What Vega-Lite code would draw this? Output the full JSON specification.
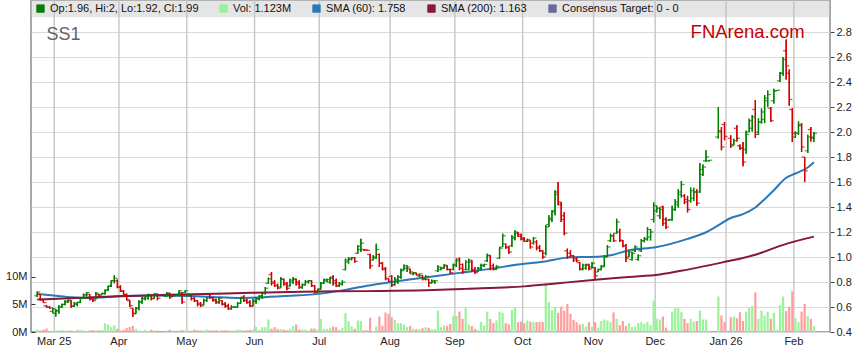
{
  "$schema": "https://vega.github.io/schema/vega-lite/v6.json",
  "width": 799,
  "height": 332,
  "autosize": {"type": "none"},
  "padding": {"left": 31, "top": 0, "right": 29, "bottom": 31},
  "background": "white",
  "config": {
    "view": {"stroke": "#8c8c8c", "strokeWidth": 1.5},
    "font": "Liberation Sans",
    "axis": {"labelFont": "Liberation Sans", "labelFontSize": 11, "labelColor": "#222", "gridColor": "#d9d9d9", "gridWidth": 1, "domain": false, "tickColor": "#444"}
  },
  "datasets": {
    "ohlc": [
      {"i":-6,"o":0.69,"h":0.725,"l":0.68,"c":0.72,"v":0.4},
      {"i":-5,"o":0.70,"h":0.70,"l":0.655,"c":0.66,"v":0.27},
      {"i":-4,"o":0.655,"h":0.66,"l":0.632,"c":0.635,"v":0.45},
      {"i":-3,"o":0.61,"h":0.615,"l":0.595,"c":0.60,"v":0.64},
      {"i":-2,"o":0.60,"h":0.605,"l":0.587,"c":0.592,"v":0.2},
      {"i":-1,"o":0.565,"h":0.595,"l":0.55,"c":0.585,"v":0.12},
      {"i":0,"o":0.55,"h":0.585,"l":0.525,"c":0.57,"v":0.27},
      {"i":1,"o":0.57,"h":0.614,"l":0.547,"c":0.60,"v":0.3},
      {"i":2,"o":0.60,"h":0.627,"l":0.595,"c":0.62,"v":0.4},
      {"i":3,"o":0.62,"h":0.654,"l":0.614,"c":0.645,"v":0.27},
      {"i":4,"o":0.64,"h":0.66,"l":0.632,"c":0.655,"v":0.3},
      {"i":5,"o":0.65,"h":0.654,"l":0.595,"c":0.605,"v":0.27},
      {"i":6,"o":0.61,"h":0.64,"l":0.60,"c":0.63,"v":0.15},
      {"i":7,"o":0.62,"h":0.64,"l":0.606,"c":0.635,"v":0.45},
      {"i":8,"o":0.64,"h":0.68,"l":0.632,"c":0.67,"v":0.4},
      {"i":9,"o":0.67,"h":0.707,"l":0.667,"c":0.70,"v":0.27},
      {"i":10,"o":0.69,"h":0.72,"l":0.686,"c":0.715,"v":0.2},
      {"i":11,"o":0.70,"h":0.705,"l":0.654,"c":0.66,"v":0.27},
      {"i":12,"o":0.67,"h":0.68,"l":0.64,"c":0.65,"v":0.35},
      {"i":13,"o":0.66,"h":0.72,"l":0.66,"c":0.71,"v":0.3},
      {"i":14,"o":0.70,"h":0.705,"l":0.68,"c":0.69,"v":0.3},
      {"i":15,"o":0.70,"h":0.715,"l":0.70,"c":0.71,"v":0.35},
      {"i":16,"o":0.705,"h":0.74,"l":0.70,"c":0.735,"v":1.6},
      {"i":17,"o":0.735,"h":0.77,"l":0.73,"c":0.765,"v":1.36},
      {"i":18,"o":0.77,"h":0.815,"l":0.76,"c":0.81,"v":0.88},
      {"i":19,"o":0.81,"h":0.855,"l":0.79,"c":0.83,"v":1.24},
      {"i":20,"o":0.81,"h":0.82,"l":0.75,"c":0.76,"v":0.58},
      {"i":21,"o":0.76,"h":0.773,"l":0.72,"c":0.73,"v":0.27},
      {"i":22,"o":0.725,"h":0.734,"l":0.694,"c":0.70,"v":0.4},
      {"i":23,"o":0.70,"h":0.707,"l":0.654,"c":0.66,"v":0.76},
      {"i":24,"o":0.65,"h":0.654,"l":0.60,"c":0.61,"v":0.9},
      {"i":25,"o":0.59,"h":0.59,"l":0.52,"c":0.545,"v":1.12},
      {"i":26,"o":0.55,"h":0.60,"l":0.547,"c":0.59,"v":0.58},
      {"i":27,"o":0.59,"h":0.654,"l":0.574,"c":0.64,"v":0.27},
      {"i":28,"o":0.64,"h":0.68,"l":0.627,"c":0.67,"v":0.2},
      {"i":29,"o":0.665,"h":0.694,"l":0.654,"c":0.685,"v":0.4},
      {"i":30,"o":0.67,"h":0.707,"l":0.66,"c":0.70,"v":0.2},
      {"i":31,"o":0.695,"h":0.70,"l":0.654,"c":0.665,"v":0.4},
      {"i":32,"o":0.67,"h":0.712,"l":0.667,"c":0.705,"v":0.3},
      {"i":33,"o":0.70,"h":0.707,"l":0.654,"c":0.67,"v":0.25},
      {"i":36,"o":0.685,"h":0.72,"l":0.68,"c":0.71,"v":0.27},
      {"i":37,"o":0.71,"h":0.715,"l":0.667,"c":0.68,"v":0.4},
      {"i":38,"o":0.685,"h":0.694,"l":0.68,"c":0.69,"v":0.3},
      {"i":40,"o":0.70,"h":0.734,"l":0.694,"c":0.73,"v":0.3},
      {"i":41,"o":0.715,"h":0.72,"l":0.627,"c":0.64,"v":0.35},
      {"i":42,"o":0.715,"h":0.735,"l":0.715,"c":0.73,"v":0.27},
      {"i":43,"o":0.69,"h":0.707,"l":0.686,"c":0.70,"v":0.3},
      {"i":44,"o":0.69,"h":0.694,"l":0.654,"c":0.665,"v":0.2},
      {"i":45,"o":0.67,"h":0.68,"l":0.64,"c":0.65,"v":0.45},
      {"i":46,"o":0.65,"h":0.654,"l":0.606,"c":0.62,"v":0.3},
      {"i":47,"o":0.63,"h":0.64,"l":0.60,"c":0.61,"v":0.27},
      {"i":48,"o":0.62,"h":0.667,"l":0.615,"c":0.655,"v":0.3},
      {"i":49,"o":0.65,"h":0.68,"l":0.64,"c":0.675,"v":0.45},
      {"i":50,"o":0.70,"h":0.707,"l":0.667,"c":0.675,"v":0.27},
      {"i":51,"o":0.675,"h":0.68,"l":0.645,"c":0.65,"v":0.3},
      {"i":52,"o":0.66,"h":0.667,"l":0.627,"c":0.64,"v":0.3},
      {"i":53,"o":0.635,"h":0.68,"l":0.627,"c":0.67,"v":0.27},
      {"i":54,"o":0.65,"h":0.654,"l":0.614,"c":0.62,"v":0.3},
      {"i":55,"o":0.625,"h":0.64,"l":0.595,"c":0.605,"v":0.3},
      {"i":56,"o":0.61,"h":0.627,"l":0.579,"c":0.59,"v":0.25},
      {"i":57,"o":0.585,"h":0.614,"l":0.579,"c":0.60,"v":0.27},
      {"i":58,"o":0.597,"h":0.605,"l":0.595,"c":0.60,"v":0.3},
      {"i":59,"o":0.60,"h":0.64,"l":0.595,"c":0.63,"v":0.45},
      {"i":60,"o":0.63,"h":0.68,"l":0.627,"c":0.67,"v":0.4},
      {"i":61,"o":0.68,"h":0.694,"l":0.64,"c":0.65,"v":0.27},
      {"i":62,"o":0.655,"h":0.667,"l":0.627,"c":0.635,"v":0.3},
      {"i":63,"o":0.64,"h":0.654,"l":0.60,"c":0.605,"v":0.4},
      {"i":64,"o":0.61,"h":0.667,"l":0.606,"c":0.65,"v":0.45},
      {"i":65,"o":0.645,"h":0.68,"l":0.627,"c":0.665,"v":0.94},
      {"i":66,"o":0.665,"h":0.694,"l":0.654,"c":0.69,"v":0.4},
      {"i":67,"o":0.685,"h":0.712,"l":0.667,"c":0.71,"v":0.88},
      {"i":68,"o":0.71,"h":0.76,"l":0.70,"c":0.75,"v":0.88},
      {"i":69,"o":0.79,"h":0.835,"l":0.785,"c":0.825,"v":2.27},
      {"i":70,"o":0.86,"h":0.88,"l":0.773,"c":0.79,"v":0.6},
      {"i":71,"o":0.80,"h":0.814,"l":0.76,"c":0.77,"v":0.88},
      {"i":72,"o":0.775,"h":0.787,"l":0.742,"c":0.75,"v":0.58},
      {"i":73,"o":0.76,"h":0.84,"l":0.755,"c":0.825,"v":0.5},
      {"i":74,"o":0.82,"h":0.827,"l":0.773,"c":0.78,"v":0.45},
      {"i":75,"o":0.79,"h":0.80,"l":0.734,"c":0.75,"v":0.3},
      {"i":76,"o":0.77,"h":0.827,"l":0.765,"c":0.815,"v":0.58},
      {"i":77,"o":0.80,"h":0.84,"l":0.787,"c":0.825,"v":1.12},
      {"i":78,"o":0.82,"h":0.827,"l":0.773,"c":0.785,"v":1.36},
      {"i":79,"o":0.80,"h":0.814,"l":0.747,"c":0.76,"v":0.45},
      {"i":80,"o":0.755,"h":0.787,"l":0.747,"c":0.78,"v":0.45},
      {"i":81,"o":0.775,"h":0.814,"l":0.773,"c":0.805,"v":0.45},
      {"i":82,"o":0.80,"h":0.814,"l":0.787,"c":0.81,"v":0.27},
      {"i":83,"o":0.81,"h":0.814,"l":0.76,"c":0.77,"v":0.64},
      {"i":84,"o":0.77,"h":0.773,"l":0.707,"c":0.72,"v":0.64},
      {"i":85,"o":0.72,"h":0.747,"l":0.715,"c":0.74,"v":0.45},
      {"i":86,"o":0.745,"h":0.80,"l":0.74,"c":0.79,"v":2.4},
      {"i":87,"o":0.79,"h":0.827,"l":0.787,"c":0.82,"v":0.58},
      {"i":88,"o":0.81,"h":0.827,"l":0.80,"c":0.82,"v":0.58},
      {"i":89,"o":0.80,"h":0.84,"l":0.787,"c":0.83,"v":0.76},
      {"i":90,"o":0.84,"h":0.854,"l":0.773,"c":0.79,"v":1.0},
      {"i":91,"o":0.81,"h":0.827,"l":0.76,"c":0.77,"v":0.88},
      {"i":92,"o":0.77,"h":0.80,"l":0.76,"c":0.79,"v":0.45},
      {"i":93,"o":0.78,"h":0.814,"l":0.773,"c":0.80,"v":0.76},
      {"i":94,"o":0.90,"h":0.987,"l":0.894,"c":0.975,"v":3.42},
      {"i":95,"o":0.96,"h":1.0,"l":0.947,"c":0.99,"v":1.97},
      {"i":96,"o":0.98,"h":1.0,"l":0.974,"c":0.995,"v":1.0},
      {"i":97,"o":0.995,"h":1.0,"l":0.955,"c":0.965,"v":0.6},
      {"i":98,"o":1.03,"h":1.094,"l":1.027,"c":1.085,"v":2.1},
      {"i":99,"o":1.06,"h":1.147,"l":1.04,"c":1.11,"v":2.0},
      {"i":100,"o":1.06,"h":1.062,"l":1.05,"c":1.055,"v":0.3},
      {"i":101,"o":1.056,"h":1.058,"l":1.05,"c":1.054,"v":0.3},
      {"i":102,"o":1.02,"h":1.027,"l":0.907,"c":0.93,"v":2.6},
      {"i":103,"o":0.975,"h":1.014,"l":0.974,"c":1.0,"v":0.2},
      {"i":104,"o":0.99,"h":1.107,"l":0.987,"c":1.06,"v":1.0},
      {"i":105,"o":1.02,"h":1.027,"l":0.92,"c":0.95,"v":2.82},
      {"i":106,"o":0.95,"h":0.96,"l":0.894,"c":0.90,"v":1.12},
      {"i":107,"o":0.91,"h":0.92,"l":0.814,"c":0.83,"v":3.55},
      {"i":108,"o":0.825,"h":0.827,"l":0.80,"c":0.805,"v":3.3},
      {"i":109,"o":0.845,"h":0.854,"l":0.76,"c":0.775,"v":2.7},
      {"i":110,"o":0.78,"h":0.84,"l":0.773,"c":0.82,"v":2.2},
      {"i":111,"o":0.80,"h":0.854,"l":0.787,"c":0.84,"v":1.6},
      {"i":112,"o":0.84,"h":0.907,"l":0.827,"c":0.89,"v":1.6},
      {"i":113,"o":0.90,"h":0.94,"l":0.894,"c":0.93,"v":1.36},
      {"i":114,"o":0.91,"h":0.934,"l":0.88,"c":0.92,"v":0.88},
      {"i":115,"o":0.905,"h":0.907,"l":0.867,"c":0.88,"v":1.1},
      {"i":116,"o":0.865,"h":0.88,"l":0.854,"c":0.875,"v":0.6},
      {"i":117,"o":0.87,"h":0.875,"l":0.854,"c":0.86,"v":0.5},
      {"i":118,"o":0.85,"h":0.867,"l":0.84,"c":0.865,"v":0.5},
      {"i":119,"o":0.85,"h":0.854,"l":0.814,"c":0.82,"v":0.7},
      {"i":120,"o":0.83,"h":0.854,"l":0.814,"c":0.845,"v":0.88},
      {"i":121,"o":0.82,"h":0.827,"l":0.76,"c":0.79,"v":0.76},
      {"i":122,"o":0.795,"h":0.82,"l":0.79,"c":0.81,"v":0.5},
      {"i":123,"o":0.80,"h":0.814,"l":0.787,"c":0.81,"v":0.5},
      {"i":124,"o":0.89,"h":0.934,"l":0.88,"c":0.92,"v":3.9},
      {"i":125,"o":0.90,"h":0.92,"l":0.894,"c":0.91,"v":0.88},
      {"i":126,"o":0.915,"h":0.942,"l":0.907,"c":0.935,"v":1.18},
      {"i":127,"o":0.93,"h":0.934,"l":0.894,"c":0.90,"v":1.1},
      {"i":128,"o":0.90,"h":0.907,"l":0.867,"c":0.875,"v":1.48},
      {"i":129,"o":0.90,"h":0.947,"l":0.894,"c":0.94,"v":2.94},
      {"i":130,"o":0.93,"h":0.987,"l":0.92,"c":0.97,"v":2.94},
      {"i":131,"o":0.985,"h":0.995,"l":0.894,"c":0.91,"v":3.73},
      {"i":132,"o":0.94,"h":0.947,"l":0.867,"c":0.88,"v":2.4},
      {"i":133,"o":0.90,"h":0.974,"l":0.894,"c":0.96,"v":4.36},
      {"i":134,"o":0.90,"h":0.987,"l":0.894,"c":0.975,"v":1.36},
      {"i":135,"o":0.96,"h":0.974,"l":0.88,"c":0.89,"v":1.1},
      {"i":136,"o":0.90,"h":0.92,"l":0.867,"c":0.875,"v":0.58},
      {"i":137,"o":0.885,"h":0.92,"l":0.88,"c":0.91,"v":0.4},
      {"i":138,"o":0.905,"h":0.947,"l":0.894,"c":0.935,"v":1.85},
      {"i":139,"o":0.93,"h":0.947,"l":0.92,"c":0.94,"v":1.2},
      {"i":140,"o":0.97,"h":1.027,"l":0.96,"c":1.015,"v":3.7},
      {"i":141,"o":1.01,"h":1.014,"l":0.894,"c":0.91,"v":2.33},
      {"i":142,"o":0.93,"h":0.947,"l":0.894,"c":0.90,"v":1.6},
      {"i":143,"o":0.905,"h":0.934,"l":0.90,"c":0.925,"v":2.1},
      {"i":144,"o":0.99,"h":1.08,"l":0.987,"c":1.07,"v":3.7},
      {"i":145,"o":1.08,"h":1.187,"l":1.08,"c":1.17,"v":3.5},
      {"i":146,"o":1.105,"h":1.107,"l":1.067,"c":1.075,"v":1.6},
      {"i":147,"o":1.08,"h":1.086,"l":1.027,"c":1.04,"v":1.4},
      {"i":148,"o":1.09,"h":1.174,"l":1.08,"c":1.16,"v":4.03},
      {"i":149,"o":1.15,"h":1.214,"l":1.134,"c":1.20,"v":4.4},
      {"i":150,"o":1.19,"h":1.20,"l":1.16,"c":1.165,"v":1.79},
      {"i":151,"o":1.18,"h":1.187,"l":1.134,"c":1.14,"v":1.9},
      {"i":152,"o":1.15,"h":1.16,"l":1.12,"c":1.125,"v":1.6},
      {"i":153,"o":1.125,"h":1.147,"l":1.12,"c":1.14,"v":2.1},
      {"i":154,"o":1.13,"h":1.134,"l":1.067,"c":1.08,"v":1.9},
      {"i":155,"o":1.11,"h":1.16,"l":1.10,"c":1.15,"v":1.8},
      {"i":156,"o":1.12,"h":1.134,"l":1.054,"c":1.07,"v":1.8},
      {"i":157,"o":1.08,"h":1.094,"l":1.04,"c":1.05,"v":1.8},
      {"i":158,"o":1.05,"h":1.054,"l":0.987,"c":1.0,"v":1.8},
      {"i":159,"o":1.03,"h":1.254,"l":1.014,"c":1.24,"v":8.9},
      {"i":160,"o":1.26,"h":1.334,"l":1.24,"c":1.31,"v":5.42},
      {"i":161,"o":1.30,"h":1.374,"l":1.28,"c":1.36,"v":4.0},
      {"i":162,"o":1.37,"h":1.534,"l":1.334,"c":1.50,"v":4.5},
      {"i":163,"o":1.52,"h":1.60,"l":1.414,"c":1.44,"v":3.5},
      {"i":164,"o":1.42,"h":1.44,"l":1.28,"c":1.30,"v":4.6},
      {"i":165,"o":1.33,"h":1.36,"l":1.174,"c":1.19,"v":3.9},
      {"i":166,"o":1.05,"h":1.067,"l":0.987,"c":1.0,"v":5.12},
      {"i":167,"o":1.03,"h":1.054,"l":1.0,"c":1.01,"v":3.3},
      {"i":168,"o":1.01,"h":1.014,"l":0.96,"c":0.975,"v":2.2},
      {"i":169,"o":0.99,"h":1.0,"l":0.96,"c":0.97,"v":1.8},
      {"i":170,"o":0.955,"h":0.96,"l":0.894,"c":0.905,"v":1.36},
      {"i":171,"o":0.90,"h":0.947,"l":0.894,"c":0.935,"v":1.5},
      {"i":172,"o":0.91,"h":0.947,"l":0.90,"c":0.935,"v":1.0},
      {"i":173,"o":0.94,"h":0.947,"l":0.894,"c":0.905,"v":1.8},
      {"i":174,"o":0.92,"h":0.96,"l":0.91,"c":0.95,"v":0.9},
      {"i":175,"o":0.915,"h":0.92,"l":0.827,"c":0.85,"v":1.79},
      {"i":176,"o":0.88,"h":0.907,"l":0.88,"c":0.90,"v":0.76},
      {"i":177,"o":0.90,"h":0.934,"l":0.894,"c":0.92,"v":2.0},
      {"i":178,"o":0.93,"h":1.014,"l":0.92,"c":1.0,"v":2.27},
      {"i":179,"o":1.0,"h":1.094,"l":1.0,"c":1.08,"v":2.1},
      {"i":180,"o":1.13,"h":1.187,"l":1.12,"c":1.17,"v":1.79},
      {"i":181,"o":1.17,"h":1.187,"l":1.12,"c":1.13,"v":3.55},
      {"i":182,"o":1.19,"h":1.307,"l":1.187,"c":1.28,"v":2.4},
      {"i":183,"o":1.20,"h":1.227,"l":1.12,"c":1.135,"v":1.24},
      {"i":184,"o":1.13,"h":1.137,"l":1.079,"c":1.09,"v":2.0},
      {"i":185,"o":1.09,"h":1.105,"l":0.96,"c":0.99,"v":1.1},
      {"i":186,"o":1.0,"h":1.052,"l":1.0,"c":1.04,"v":1.6},
      {"i":187,"o":0.98,"h":1.04,"l":0.973,"c":1.03,"v":0.9},
      {"i":188,"o":1.05,"h":1.092,"l":1.04,"c":1.08,"v":1.0},
      {"i":189,"o":0.98,"h":1.02,"l":0.973,"c":1.01,"v":1.6},
      {"i":190,"o":1.05,"h":1.145,"l":1.04,"c":1.13,"v":1.8},
      {"i":191,"o":1.13,"h":1.158,"l":1.118,"c":1.15,"v":1.5},
      {"i":192,"o":1.14,"h":1.238,"l":1.132,"c":1.22,"v":1.85},
      {"i":193,"o":1.16,"h":1.224,"l":1.132,"c":1.20,"v":1.2},
      {"i":194,"o":1.30,"h":1.436,"l":1.277,"c":1.41,"v":5.7},
      {"i":195,"o":1.37,"h":1.41,"l":1.356,"c":1.39,"v":2.45},
      {"i":196,"o":1.33,"h":1.396,"l":1.304,"c":1.38,"v":2.27},
      {"i":197,"o":1.40,"h":1.41,"l":1.251,"c":1.27,"v":2.8},
      {"i":198,"o":1.30,"h":1.317,"l":1.224,"c":1.24,"v":0.8},
      {"i":199,"o":1.295,"h":1.304,"l":1.29,"c":1.297,"v":0.3},
      {"i":200,"o":1.30,"h":1.41,"l":1.29,"c":1.38,"v":3.73},
      {"i":201,"o":1.38,"h":1.462,"l":1.37,"c":1.44,"v":4.33},
      {"i":202,"o":1.42,"h":1.542,"l":1.396,"c":1.52,"v":4.33},
      {"i":203,"o":1.50,"h":1.608,"l":1.476,"c":1.58,"v":3.6},
      {"i":204,"o":1.49,"h":1.502,"l":1.423,"c":1.44,"v":2.4},
      {"i":205,"o":1.46,"h":1.489,"l":1.357,"c":1.38,"v":1.6},
      {"i":206,"o":1.45,"h":1.555,"l":1.436,"c":1.53,"v":2.4},
      {"i":207,"o":1.47,"h":1.555,"l":1.449,"c":1.52,"v":1.9},
      {"i":208,"o":1.52,"h":1.542,"l":1.41,"c":1.43,"v":2.0},
      {"i":209,"o":1.52,"h":1.753,"l":1.515,"c":1.70,"v":3.9},
      {"i":210,"o":1.66,"h":1.74,"l":1.648,"c":1.72,"v":2.27},
      {"i":211,"o":1.77,"h":1.854,"l":1.76,"c":1.80,"v":2.27},
      {"i":212,"o":1.77,"h":1.775,"l":1.765,"c":1.774,"v":0.3},
      {"i":215,"o":1.96,"h":2.2,"l":1.947,"c":2.0,"v":6.45},
      {"i":216,"o":2.01,"h":2.04,"l":1.854,"c":1.88,"v":3.0},
      {"i":217,"o":2.06,"h":2.08,"l":1.934,"c":1.965,"v":1.8},
      {"i":219,"o":1.95,"h":1.974,"l":1.872,"c":1.89,"v":2.7},
      {"i":220,"o":1.90,"h":1.947,"l":1.894,"c":1.93,"v":2.8},
      {"i":221,"o":2.03,"h":2.054,"l":1.925,"c":1.95,"v":2.5},
      {"i":222,"o":1.89,"h":1.90,"l":1.859,"c":1.87,"v":3.6},
      {"i":223,"o":1.87,"h":1.92,"l":1.727,"c":1.76,"v":2.0},
      {"i":224,"o":1.86,"h":2.01,"l":1.827,"c":1.98,"v":3.7},
      {"i":225,"o":2.0,"h":2.107,"l":2.0,"c":2.09,"v":4.4},
      {"i":226,"o":2.03,"h":2.137,"l":2.004,"c":2.12,"v":4.7},
      {"i":227,"o":2.18,"h":2.256,"l":1.952,"c":1.98,"v":7.2},
      {"i":228,"o":2.0,"h":2.11,"l":1.978,"c":2.08,"v":2.4},
      {"i":229,"o":2.08,"h":2.187,"l":2.067,"c":2.16,"v":3.9},
      {"i":230,"o":2.10,"h":2.295,"l":2.071,"c":2.27,"v":3.0},
      {"i":231,"o":2.25,"h":2.333,"l":2.203,"c":2.30,"v":3.7},
      {"i":232,"o":2.19,"h":2.2,"l":2.08,"c":2.09,"v":2.4},
      {"i":233,"o":2.25,"h":2.347,"l":2.229,"c":2.33,"v":3.5},
      {"i":234,"o":2.33,"h":2.336,"l":2.328,"c":2.334,"v":0.4},
      {"i":235,"o":2.41,"h":2.48,"l":2.40,"c":2.47,"v":4.9},
      {"i":236,"o":2.47,"h":2.60,"l":2.45,"c":2.58,"v":6.45},
      {"i":237,"o":2.65,"h":2.74,"l":2.42,"c":2.53,"v":3.8},
      {"i":238,"o":2.47,"h":2.50,"l":2.21,"c":2.26,"v":4.6},
      {"i":239,"o":2.18,"h":2.19,"l":1.92,"c":1.99,"v":7.4},
      {"i":240,"o":1.96,"h":2.005,"l":1.952,"c":1.99,"v":2.5},
      {"i":241,"o":1.99,"h":2.084,"l":1.978,"c":2.06,"v":1.8},
      {"i":242,"o":2.05,"h":2.071,"l":1.84,"c":1.88,"v":3.7},
      {"i":243,"o":1.80,"h":1.80,"l":1.60,"c":1.69,"v":5.1},
      {"i":244,"o":1.85,"h":1.978,"l":1.833,"c":1.96,"v":2.9},
      {"i":245,"o":2.02,"h":2.04,"l":1.925,"c":1.95,"v":2.4},
      {"i":246,"o":1.96,"h":2.0,"l":1.92,"c":1.99,"v":1.123}
    ],
    "sma": [
      {"i":-6,"s":"SMA (60): 1.758","p":0.705},
      {"i":0,"s":"SMA (60): 1.758","p":0.69},
      {"i":5,"s":"SMA (60): 1.758","p":0.678},
      {"i":10,"s":"SMA (60): 1.758","p":0.672},
      {"i":16,"s":"SMA (60): 1.758","p":0.678},
      {"i":21,"s":"SMA (60): 1.758","p":0.688},
      {"i":32,"s":"SMA (60): 1.758","p":0.692},
      {"i":43,"s":"SMA (60): 1.758","p":0.688},
      {"i":53,"s":"SMA (60): 1.758","p":0.678},
      {"i":60,"s":"SMA (60): 1.758","p":0.672},
      {"i":66,"s":"SMA (60): 1.758","p":0.676},
      {"i":75,"s":"SMA (60): 1.758","p":0.688},
      {"i":86,"s":"SMA (60): 1.758","p":0.707},
      {"i":93,"s":"SMA (60): 1.758","p":0.733},
      {"i":101,"s":"SMA (60): 1.758","p":0.77},
      {"i":109,"s":"SMA (60): 1.758","p":0.80},
      {"i":121,"s":"SMA (60): 1.758","p":0.84},
      {"i":131,"s":"SMA (60): 1.758","p":0.873},
      {"i":141,"s":"SMA (60): 1.758","p":0.905},
      {"i":150,"s":"SMA (60): 1.758","p":0.94},
      {"i":158,"s":"SMA (60): 1.758","p":0.962},
      {"i":166,"s":"SMA (60): 1.758","p":0.995},
      {"i":172,"s":"SMA (60): 1.758","p":1.0},
      {"i":176,"s":"SMA (60): 1.758","p":1.002},
      {"i":180,"s":"SMA (60): 1.758","p":1.014},
      {"i":186,"s":"SMA (60): 1.758","p":1.054},
      {"i":195,"s":"SMA (60): 1.758","p":1.08},
      {"i":205,"s":"SMA (60): 1.758","p":1.145},
      {"i":211,"s":"SMA (60): 1.758","p":1.198},
      {"i":216,"s":"SMA (60): 1.758","p":1.269},
      {"i":219,"s":"SMA (60): 1.758","p":1.312},
      {"i":223,"s":"SMA (60): 1.758","p":1.343},
      {"i":227,"s":"SMA (60): 1.758","p":1.396},
      {"i":230,"s":"SMA (60): 1.758","p":1.462},
      {"i":233,"s":"SMA (60): 1.758","p":1.534},
      {"i":237,"s":"SMA (60): 1.758","p":1.634},
      {"i":240,"s":"SMA (60): 1.758","p":1.668},
      {"i":244,"s":"SMA (60): 1.758","p":1.716},
      {"i":246,"s":"SMA (60): 1.758","p":1.758},
      {"i":-6,"s":"SMA (200): 1.163","p":0.66},
      {"i":16,"s":"SMA (200): 1.163","p":0.682},
      {"i":37,"s":"SMA (200): 1.163","p":0.698},
      {"i":58,"s":"SMA (200): 1.163","p":0.71},
      {"i":80,"s":"SMA (200): 1.163","p":0.722},
      {"i":100,"s":"SMA (200): 1.163","p":0.727},
      {"i":120,"s":"SMA (200): 1.163","p":0.734},
      {"i":133,"s":"SMA (200): 1.163","p":0.745},
      {"i":152,"s":"SMA (200): 1.163","p":0.765},
      {"i":159,"s":"SMA (200): 1.163","p":0.78},
      {"i":166,"s":"SMA (200): 1.163","p":0.797},
      {"i":176,"s":"SMA (200): 1.163","p":0.82},
      {"i":186,"s":"SMA (200): 1.163","p":0.84},
      {"i":196,"s":"SMA (200): 1.163","p":0.86},
      {"i":205,"s":"SMA (200): 1.163","p":0.899},
      {"i":216,"s":"SMA (200): 1.163","p":0.955},
      {"i":227,"s":"SMA (200): 1.163","p":1.018},
      {"i":237,"s":"SMA (200): 1.163","p":1.105},
      {"i":246,"s":"SMA (200): 1.163","p":1.163}
    ],
    "months": [
      {"m":"Mar 25","i":-0.5,"yearStart":true},
      {"m":"Apr","i":20.5,"yearStart":false},
      {"m":"May","i":42.5,"yearStart":false},
      {"m":"Jun","i":64.5,"yearStart":false},
      {"m":"Jul","i":85.5,"yearStart":false},
      {"m":"Aug","i":108.5,"yearStart":false},
      {"m":"Sep","i":129.5,"yearStart":false},
      {"m":"Oct","i":151.5,"yearStart":false},
      {"m":"Nov","i":174.5,"yearStart":false},
      {"m":"Dec","i":194.5,"yearStart":false},
      {"m":"Jan 26","i":217.5,"yearStart":true},
      {"m":"Feb","i":239.5,"yearStart":false}
    ]
  },
  "layer": [
    {
      "data": {"name": "months"},
      "mark": {"type": "rule", "stroke": "#c6c6c6", "strokeWidth": 1.4},
      "encoding": {
        "x": {"field": "i", "type": "quantitative", "scale": {"domain": [-6.41, 249.6], "nice": false, "zero": false}, "axis": null},
        "y": {"datum": 0.4, "type": "quantitative", "scale": {"domain": [0.4, 3.056], "nice": false, "zero": false}, "axis": null},
        "y2": {"datum": 3.056}
      }
    },
    {
      "data": {"name": "ohlc"},
      "mark": {"type": "bar", "width": 2.2},
      "encoding": {
        "x": {"field": "i", "type": "quantitative", "scale": {"domain": [-6.41, 249.6], "nice": false, "zero": false}, "axis": null},
        "y": {"field": "v", "type": "quantitative", "scale": {"domain": [0, 60.36], "nice": false, "zero": true},
          "axis": {"title": null, "orient": "left", "values": [0, 5, 10], "labelExpr": "datum.value + 'M'", "grid": false, "tickSize": -4, "labelPadding": 8, "tickColor": "#333"}},
        "color": {"condition": [{"test": "datum.c > datum.o", "value": "#9af29a"}, {"test": "datum.c < datum.o", "value": "#ff9d9d"}], "value": "#808080"}
      }
    },
    {
      "data": {"name": "ohlc"},
      "mark": {"type": "rule", "strokeWidth": 1.3},
      "encoding": {
        "x": {"field": "i", "type": "quantitative", "scale": {"domain": [-6.41, 249.6], "nice": false, "zero": false}, "axis": null},
        "y": {"field": "l", "type": "quantitative", "scale": {"domain": [0.4, 3.056], "nice": false, "zero": false},
          "axis": {"title": null, "orient": "right", "values": [0.4, 0.6, 0.8, 1.0, 1.2, 1.4, 1.6, 1.8, 2.0, 2.2, 2.4, 2.6, 2.8], "format": ".1f", "grid": true, "tickSize": 4, "labelPadding": 2}},
        "y2": {"field": "h"},
        "color": {"condition": {"test": "datum.c >= datum.o", "value": "#008000"}, "value": "#d00000"}
      }
    },
    {
      "data": {"values": [{"band": "header"}]},
      "mark": {"type": "rect", "fill": "#c2c2c2", "opacity": 0.42},
      "encoding": {
        "y": {"datum": 2.918, "type": "quantitative", "scale": {"domain": [0.4, 3.056], "nice": false, "zero": false}, "axis": null},
        "y2": {"datum": 3.056}
      }
    },
    {
      "data": {"name": "months"},
      "mark": {"type": "text", "align": "center", "baseline": "middle", "fontSize": 11, "font": "Liberation Sans", "fill": "#222"},
      "encoding": {
        "x": {"field": "i", "type": "quantitative", "scale": {"domain": [-6.41, 249.6], "nice": false, "zero": false}, "axis": null},
        "y": {"datum": 0.322, "type": "quantitative", "scale": {"domain": [0.4, 3.056], "nice": false, "zero": false}, "axis": null},
        "text": {"field": "m"},
        "fontWeight": {"condition": {"test": "datum.yearStart", "value": "bold"}, "value": "normal"}
      }
    },
    {
      "data": {"name": "sma"},
      "mark": {"type": "line", "strokeWidth": 2, "interpolate": "monotone"},
      "encoding": {
        "x": {"field": "i", "type": "quantitative", "scale": {"domain": [-6.41, 249.6], "nice": false, "zero": false}, "axis": null},
        "y": {"field": "p", "type": "quantitative", "scale": {"domain": [0.4, 3.056], "nice": false, "zero": false}, "axis": null},
        "color": {"field": "s", "type": "nominal",
          "scale": {"domain": ["Op:1.96, Hi:2, Lo:1.92, Cl:1.99", "Vol: 1.123M", "SMA (60): 1.758", "SMA (200): 1.163", "Consensus Target: 0 - 0"],
                    "range": ["#007f00", "#99f099", "#2a78b8", "#86183a", "#6a6a98"]},
          "legend": {"title": null, "orient": "none", "legendX": 4, "legendY": 3, "direction": "horizontal", "columns": 5,
            "symbolType": "square", "symbolSize": 56, "labelFont": "Liberation Sans", "labelFontSize": 11, "labelColor": "#111",
            "columnPadding": 19, "labelOffset": 4, "padding": 0, "labelLimit": 400,
            "encode": {"symbols": {"update": {"fill": {"scale": "color", "field": "value"}, "fillOpacity": {"value": 1}, "stroke": {"value": "#222"}, "strokeWidth": {"value": 0.8}, "opacity": {"value": 1}}}}}}
      }
    },
    {
      "data": {"name": "ohlc"},
      "mark": {"type": "rule", "strokeWidth": 1.3},
      "encoding": {
        "x": {"field": "i", "type": "quantitative", "scale": {"domain": [-6.41, 249.6], "nice": false, "zero": false}, "axis": null},
        "y": {"field": "l", "type": "quantitative", "scale": {"domain": [0.4, 3.056], "nice": false, "zero": false}, "axis": null},
        "y2": {"field": "h"},
        "color": {"condition": {"test": "datum.c >= datum.o", "value": "#008000"}, "value": "#d00000"}
      }
    },
    {
      "data": {"name": "ohlc"},
      "mark": {"type": "tick", "orient": "horizontal", "size": 3, "thickness": 1.3, "xOffset": -1.6},
      "encoding": {
        "x": {"field": "i", "type": "quantitative", "scale": {"domain": [-6.41, 249.6], "nice": false, "zero": false}, "axis": null},
        "y": {"field": "o", "type": "quantitative", "scale": {"domain": [0.4, 3.056], "nice": false, "zero": false}, "axis": null},
        "color": {"condition": {"test": "datum.c >= datum.o", "value": "#008000"}, "value": "#d00000"}
      }
    },
    {
      "data": {"name": "ohlc"},
      "mark": {"type": "tick", "orient": "horizontal", "size": 3, "thickness": 1.3, "xOffset": 1.6},
      "encoding": {
        "x": {"field": "i", "type": "quantitative", "scale": {"domain": [-6.41, 249.6], "nice": false, "zero": false}, "axis": null},
        "y": {"field": "c", "type": "quantitative", "scale": {"domain": [0.4, 3.056], "nice": false, "zero": false}, "axis": null},
        "color": {"condition": {"test": "datum.c >= datum.o", "value": "#008000"}, "value": "#d00000"}
      }
    },
    {
      "data": {"values": [{"t": "SS1"}]},
      "mark": {"type": "text", "align": "left", "baseline": "alphabetic", "fontSize": 18, "font": "Liberation Sans", "fill": "#5f6368"},
      "encoding": {
        "x": {"datum": -3.0, "type": "quantitative", "scale": {"domain": [-6.41, 249.6], "nice": false, "zero": false}, "axis": null},
        "y": {"datum": 2.734, "type": "quantitative", "scale": {"domain": [0.4, 3.056], "nice": false, "zero": false}, "axis": null},
        "text": {"field": "t"}
      }
    },
    {
      "data": {"values": [{"t": "FNArena.com"}]},
      "mark": {"type": "text", "align": "center", "baseline": "alphabetic", "fontSize": 18.5, "font": "Liberation Sans", "fill": "#c40000"},
      "encoding": {
        "x": {"datum": 224.5, "type": "quantitative", "scale": {"domain": [-6.41, 249.6], "nice": false, "zero": false}, "axis": null},
        "y": {"datum": 2.75, "type": "quantitative", "scale": {"domain": [0.4, 3.056], "nice": false, "zero": false}, "axis": null},
        "text": {"field": "t"}
      }
    }
  ],
  "resolve": {"scale": {"y": "independent"}}
}
